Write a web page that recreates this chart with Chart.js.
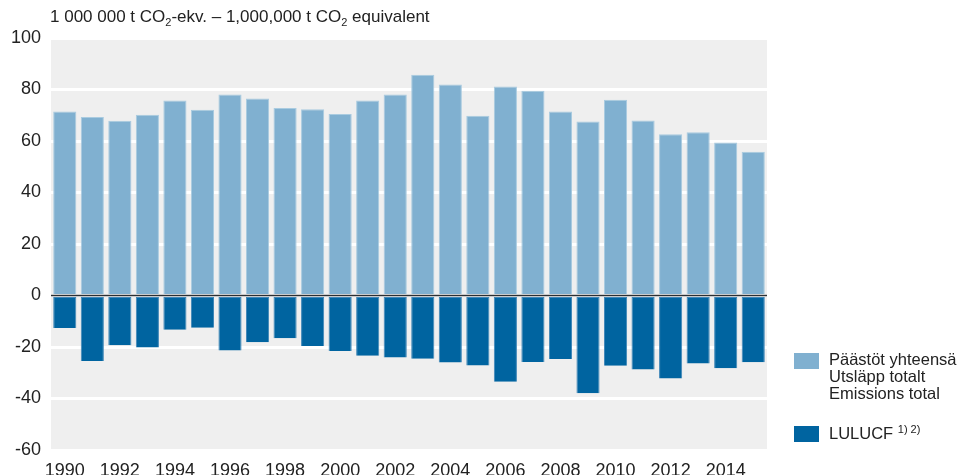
<!DOCTYPE html>
<html>
<head>
<meta charset="utf-8">
<script src="https://cdn.jsdelivr.net/npm/chart.js@4/dist/chart.umd.min.js"></script>
<style>
  body { margin: 0; background: #fff; font-family: "Liberation Sans", Arial, sans-serif; color: #222; }
  #wrap { position: relative; width: 961px; height: 475px; }
  #title { position: absolute; left: 50px; top: 7px; font-size: 17px; white-space: nowrap; }
  #title sub { font-size: 11px; vertical-align: -4px; line-height: 0; }
  .sw { position: absolute; width: 25px; height: 16px; }
  .lg { position: absolute; left: 829px; font-size: 16.5px; line-height: 17px; white-space: nowrap; }
  .lg sup { font-size: 11px; vertical-align: 6px; line-height: 0; }
</style>
</head>
<body>
<div id="wrap">
  <canvas id="chart_emissions" width="961" height="475"></canvas>
  <div id="title">1 000 000 t CO<sub>2</sub>-ekv. – 1,000,000 t CO<sub>2</sub> equivalent</div>
  <div class="sw" style="left:794px; top:353px; background:#80b0d0;"></div>
  <div class="lg" style="top:351px;">Päästöt yhteensä<br>Utsläpp totalt<br>Emissions total</div>
  <div class="sw" style="left:794px; top:426px; background:#0064a0;"></div>
  <div class="lg" style="top:425px;">LULUCF <sup>1) 2)</sup></div>
</div>
<script>
// data (million t CO2 eq.)
var years = ["1990","1991","1992","1993","1994","1995","1996","1997","1998","1999","2000","2001","2002",
             "2003","2004","2005","2006","2007","2008","2009","2010","2011","2012","2013","2014","2015"];
var emissions_total = [71.5, 69.3, 67.9, 70.2, 75.7, 72.1, 78.1, 76.5, 72.8, 72.3, 70.5, 75.7, 78.1,
                       85.7, 81.9, 69.8, 81.2, 79.5, 71.5, 67.6, 76.0, 68.0, 62.6, 63.4, 59.4, 55.8];
var lulucf = [-12.6, -25.4, -19.3, -20.2, -13.3, -12.5, -21.4, -18.2, -16.6, -19.6, -21.6, -23.4, -24.1,
              -24.6, -26.0, -27.2, -33.5, -25.8, -24.7, -38.0, -27.3, -28.7, -32.2, -26.4, -28.3, -25.9];
var y_ticks = [-60, -40, -20, 0, 20, 40, 60, 80, 100];

//----------------------------------------------------------------------------------------------------------------------------
// grey plot background + dark zero line on top of the bars
//----------------------------------------------------------------------------------------------------------------------------
var plotDecor = {
    id: "plotDecor",
    beforeDraw: function (chart) {
        var a = chart.chartArea, ctx = chart.ctx;
        ctx.save();
        ctx.fillStyle = "#efefef";
        ctx.fillRect(a.left, a.top, a.right - a.left, a.bottom - a.top);
        ctx.restore();
    },
    afterDatasetsDraw: function (chart) {
        var a = chart.chartArea, ctx = chart.ctx;
        var y0 = chart.scales.y.getPixelForValue(0);
        ctx.save();
        ctx.strokeStyle = "#2b2f33";
        ctx.lineWidth = 1.5;
        ctx.beginPath();
        ctx.moveTo(a.left, y0);
        ctx.lineTo(a.right, y0);
        ctx.stroke();
        ctx.restore();
    }
};

function DrawChart()
{
    try
    {
        new Chart(document.getElementById("chart_emissions"),
            {
                type: "bar",
                data: {
                    labels: years,
                    datasets: [{
                        label: "Päästöt yhteensä",
                        data: emissions_total,
                        backgroundColor: "#80b0d0",
                        borderColor: "#a9cbe0",
                        borderWidth: 1,
                        borderSkipped: "bottom"
                    }, {
                        label: "LULUCF",
                        data: lulucf,
                        backgroundColor: "#0064a0",
                        borderColor: "#3f87b8",
                        borderWidth: 1,
                        borderSkipped: "top"
                    }]
                },
                options: {
                    responsive: false,
                    animation: false,
                    layout: { padding: { left: 0, right: 194, top: 38, bottom: 0 } },
                    plugins: {
                        legend: { display: false },
                        tooltip: { enabled: false },
                        title: { display: false }
                    },
                    datasets: { bar: { categoryPercentage: 1.0, barPercentage: 0.84 } },
                    scales: {
                        x: {
                            stacked: true,
                            grid: { display: false },
                            border: { display: false },
                            ticks: {
                                autoSkip: false,
                                maxRotation: 0,
                                padding: 2,
                                color: "#222",
                                font: { family: "Liberation Sans", size: 18 },
                                callback: function (v, i) { return i % 2 === 0 ? years[i] : ""; }
                            },
                            afterFit: function (s) { s.height = 25; }
                        },
                        y: {
                            stacked: true,
                            min: -60,
                            max: 100,
                            afterBuildTicks: function (s) { s.ticks = y_ticks.map(function (v) { return { value: v }; }); },
                            grid: { color: "#ffffff", lineWidth: 3, drawTicks: false },
                            border: { display: false },
                            ticks: {
                                padding: 10,
                                color: "#222",
                                font: { family: "Liberation Sans", size: 18 }
                            },
                            afterFit: function (s) { s.width = 51; }
                        }
                    }
                },
                plugins: [plotDecor]
            }
        );
    }
    catch (e)
    {
        console.log(e);
    }
}

DrawChart();
</script>
</body>
</html>
